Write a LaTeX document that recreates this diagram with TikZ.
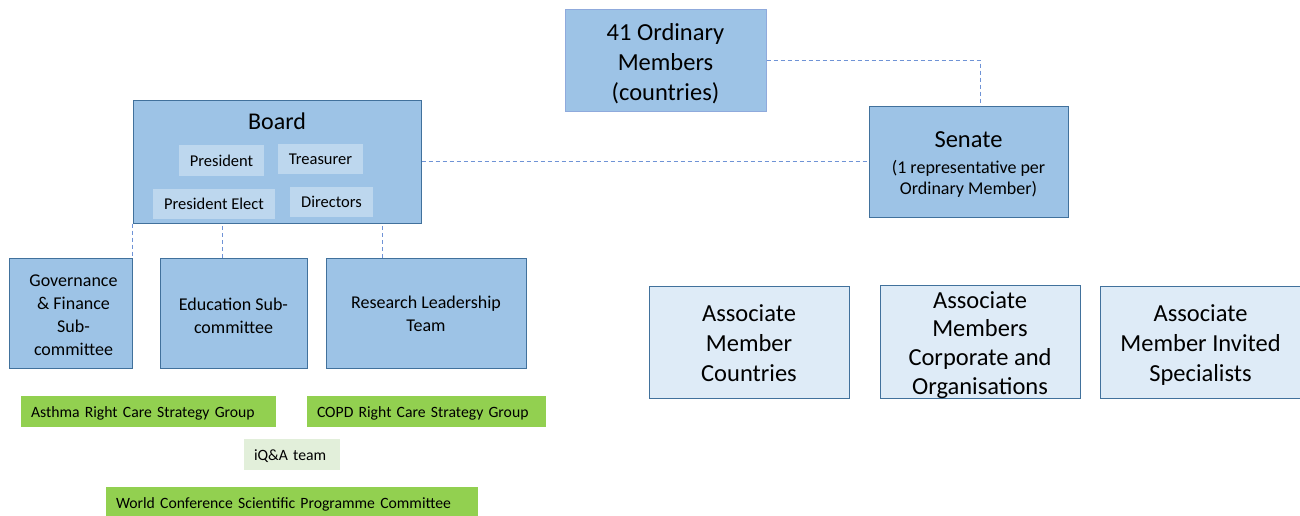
\documentclass[tikz,border=0pt]{standalone}
\usepackage{fontspec}
\setmainfont{Carlito}
\usepackage{tikz}
\usetikzlibrary{positioning}

\definecolor{midblue}{HTML}{9DC3E6}
\definecolor{paleblue}{HTML}{BDD7EE}
\definecolor{iceblue}{HTML}{DEEBF7}
\definecolor{edgeblue}{HTML}{41719C}
\definecolor{softedge}{HTML}{8FAADC}
\definecolor{dashblue}{HTML}{6F93D6}
\definecolor{leafgreen}{HTML}{92D050}
\definecolor{mintgreen}{HTML}{E2EFDA}

% strut on the first line, to set the text a little lower in its box
\newcommand{\pad}[1]{\rule{0pt}{#1}}

\begin{document}
\begin{tikzpicture}[x=1pt,y=-1pt,
  unit/.style={draw=edgeblue,fill=midblue,line width=1pt,align=center,inner sep=0pt},
  role/.style={fill=paleblue,inner sep=0pt,text height=13pt,text depth=2pt,
    font=\fontsize{16.5}{19}\selectfont},
  assoc/.style={draw=edgeblue,fill=iceblue,line width=1pt,align=center,inner sep=0pt,
    minimum width=200pt,minimum height=112pt,font=\fontsize{24.5}{30}\selectfont},
  group/.style={fill=leafgreen,inner xsep=10pt,inner ysep=0pt,minimum height=31pt,
    text height=14.5pt,text depth=3pt,text width=#1,align=left,
    font=\fontsize{15.7}{19}\selectfont},
  link/.style={draw=dashblue,line width=1pt,dash pattern=on 4pt off 3pt}]

\useasboundingbox (0,0) rectangle (1300,515);

% top of the tree
\node[unit,draw=softedge,minimum width=201pt,minimum height=102pt,
  font=\fontsize{24.5}{30}\selectfont] (ord) at (665.5,60) {\pad{25pt}41 Ordinary\\Members\\(countries)};
\node[unit,minimum width=199pt,minimum height=111pt,font=\fontsize{18}{21}\selectfont] (sen) at (968.5,161.5)
  {{\pad{21pt}\fontsize{24.5}{28}\selectfont Senate}\\[5pt](1 representative per\\Ordinary Member)};

% board and its officers
\node[unit,minimum width=288pt,minimum height=123pt,
  label={[anchor=center,yshift=-22pt,font=\fontsize{24}{28}\selectfont]north:Board}] (board) at (277,161.5) {};
\node[role,minimum width=85pt,minimum height=31pt] (pres) at (221.5,160.5) {President};
\node[role,minimum width=85pt,minimum height=30pt] (treas) at (320.5,159) {Treasurer};
\node[role,minimum width=122pt,minimum height=30pt] (elect) at (214,204) {President Elect};
\node[role,minimum width=83pt,minimum height=30pt] (dirs) at (331.5,202) {Directors};

% committees
\node[unit,minimum width=123pt,minimum height=110pt,font=\fontsize{18}{23}\selectfont]
  (gov) at (70.5,313) {\pad{15.5pt}\hspace{6pt}Governance\\\hspace{6pt}\& Finance\\\hspace{6pt}Sub-\\\hspace{6pt}committee};
\node[unit,minimum width=147pt,minimum height=110pt,font=\fontsize{18}{23}\selectfont]
  (edu) at (233.5,313) {\pad{18.5pt}Education Sub-\\committee};
\node[unit,minimum width=200pt,minimum height=110pt,font=\fontsize{18}{23}\selectfont]
  (res) at (426,313) {\pad{14.5pt}Research Leadership\\Team};

% associate members
\node[assoc] (amc) at (749,342) {\pad{19.5pt}Associate\\Member\\Countries};
\node[assoc,font=\fontsize{24.5}{28.7}\selectfont] (amo) at (980,342)
  {\pad{22.5pt}Associate\\Members\\Corporate and\\Organisations};
\node[assoc] (ams) at (1200.5,342) {\pad{23.5pt}Associate\\Member Invited\\Specialists};

% working groups
\node[group=235pt] (asthma) at (148.5,411.5) {Asthma Right Care Strategy Group};
\node[group=219pt] (copd) at (426.5,411.5) {COPD Right Care Strategy Group};
\node[group=76pt,fill=mintgreen] (iqa) at (292,454.5) {iQ\&A team};
\node[group=352pt] (wcsp) at (292,502.5) {World Conference Scientific Programme Committee};

% dashed links
\draw[link] (ord.east) -| ([xshift=11.5pt]sen.north);
\draw[link] (board.east) -- (sen.west);
\draw[link] (board.south west) -- (board.south west |- gov.north);
\draw[link] ([xshift=-11.5pt]edu.north) -- ([xshift=-11.5pt]edu.north |- board.south);
\draw[link] ([xshift=-44pt]res.north) -- ([xshift=-44pt]res.north |- board.south);

\end{tikzpicture}
\end{document}
